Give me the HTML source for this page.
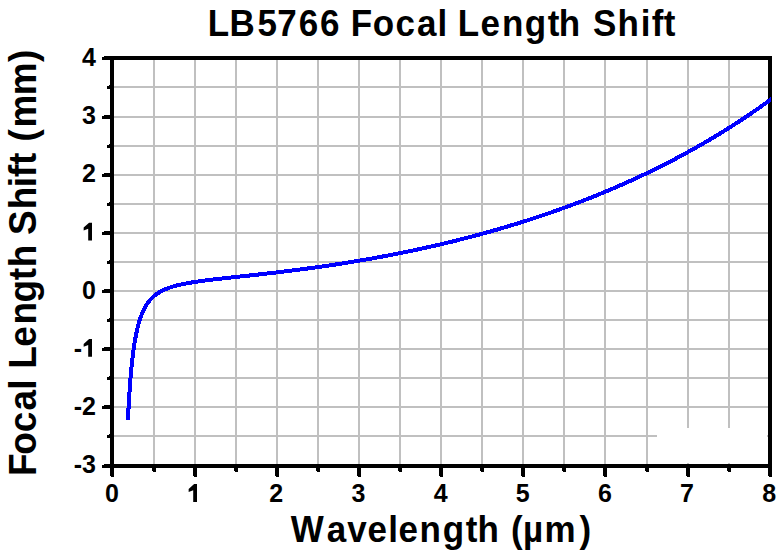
<!DOCTYPE html>
<html><head><meta charset="utf-8"><style>
html,body{margin:0;padding:0;background:#fff;}
svg{display:block;}
text{font-family:"Liberation Sans",sans-serif;font-weight:bold;fill:#000;}
</style></head><body>
<svg width="780" height="552" viewBox="0 0 780 552">
<defs><clipPath id="clp"><rect x="0" y="0" width="771" height="552"/></clipPath></defs>
<rect width="780" height="552" fill="#fff"/>
<g shape-rendering="crispEdges">
<g fill="#c0c0c0"><rect x="153" y="60" width="2" height="404"/><rect x="194" y="60" width="2" height="404"/><rect x="235" y="60" width="2" height="404"/><rect x="276" y="60" width="2" height="404"/><rect x="317" y="60" width="2" height="404"/><rect x="358" y="60" width="2" height="404"/><rect x="399" y="60" width="2" height="404"/><rect x="440" y="60" width="2" height="404"/><rect x="481" y="60" width="2" height="404"/><rect x="522" y="60" width="2" height="404"/><rect x="563" y="60" width="2" height="404"/><rect x="604" y="60" width="2" height="404"/><rect x="646" y="60" width="2" height="404"/><rect x="687" y="60" width="2" height="404"/><rect x="728" y="60" width="2" height="404"/><rect x="114" y="86" width="654" height="2"/><rect x="114" y="116" width="654" height="2"/><rect x="114" y="145" width="654" height="2"/><rect x="114" y="174" width="654" height="2"/><rect x="114" y="203" width="654" height="2"/><rect x="114" y="232" width="654" height="2"/><rect x="114" y="261" width="654" height="2"/><rect x="114" y="290" width="654" height="2"/><rect x="114" y="319" width="654" height="2"/><rect x="114" y="348" width="654" height="2"/><rect x="114" y="377" width="654" height="2"/><rect x="114" y="406" width="654" height="2"/><rect x="114" y="435" width="654" height="2"/></g>
<rect x="657" y="428" width="110" height="35" fill="#fff"/>
<g fill="#000">
<rect x="110" y="56" width="4" height="412"/>
<rect x="768" y="56" width="4" height="412"/>
<rect x="110" y="56" width="662" height="4"/>
<rect x="110" y="464" width="662" height="4"/>
<rect x="102" y="57" width="2" height="3"/><rect x="104" y="56" width="6" height="4"/><rect x="107" y="86" width="2" height="3"/><rect x="109" y="85" width="1" height="4"/><rect x="102" y="116" width="2" height="3"/><rect x="104" y="115" width="6" height="4"/><rect x="107" y="145" width="2" height="3"/><rect x="109" y="144" width="1" height="4"/><rect x="102" y="174" width="2" height="3"/><rect x="104" y="173" width="6" height="4"/><rect x="107" y="203" width="2" height="3"/><rect x="109" y="202" width="1" height="4"/><rect x="102" y="232" width="2" height="3"/><rect x="104" y="231" width="6" height="4"/><rect x="107" y="261" width="2" height="3"/><rect x="109" y="260" width="1" height="4"/><rect x="102" y="290" width="2" height="3"/><rect x="104" y="289" width="6" height="4"/><rect x="107" y="319" width="2" height="3"/><rect x="109" y="318" width="1" height="4"/><rect x="102" y="348" width="2" height="3"/><rect x="104" y="347" width="6" height="4"/><rect x="107" y="377" width="2" height="3"/><rect x="109" y="376" width="1" height="4"/><rect x="102" y="406" width="2" height="3"/><rect x="104" y="405" width="6" height="4"/><rect x="107" y="435" width="2" height="3"/><rect x="109" y="434" width="1" height="4"/><rect x="102" y="465" width="2" height="3"/><rect x="104" y="464" width="6" height="4"/><rect x="110" y="468" width="1" height="8"/><rect x="111" y="468" width="3" height="9"/><rect x="152" y="468" width="1" height="3"/><rect x="153" y="468" width="3" height="4"/><rect x="193" y="468" width="1" height="8"/><rect x="194" y="468" width="3" height="9"/><rect x="234" y="468" width="1" height="3"/><rect x="235" y="468" width="3" height="4"/><rect x="275" y="468" width="1" height="8"/><rect x="276" y="468" width="3" height="9"/><rect x="316" y="468" width="1" height="3"/><rect x="317" y="468" width="3" height="4"/><rect x="357" y="468" width="1" height="8"/><rect x="358" y="468" width="3" height="9"/><rect x="398" y="468" width="1" height="3"/><rect x="399" y="468" width="3" height="4"/><rect x="439" y="468" width="1" height="8"/><rect x="440" y="468" width="3" height="9"/><rect x="480" y="468" width="1" height="3"/><rect x="481" y="468" width="3" height="4"/><rect x="521" y="468" width="1" height="8"/><rect x="522" y="468" width="3" height="9"/><rect x="562" y="468" width="1" height="3"/><rect x="563" y="468" width="3" height="4"/><rect x="603" y="468" width="1" height="8"/><rect x="604" y="468" width="3" height="9"/><rect x="645" y="468" width="1" height="3"/><rect x="646" y="468" width="3" height="4"/><rect x="686" y="468" width="1" height="8"/><rect x="687" y="468" width="3" height="9"/><rect x="727" y="468" width="1" height="3"/><rect x="728" y="468" width="3" height="4"/><rect x="768" y="468" width="1" height="8"/><rect x="769" y="468" width="3" height="9"/>
</g>
</g>
<path d="M127.93,420.08 L128.19,414.82 L128.44,409.86 L128.70,405.19 L128.95,400.77 L129.21,396.59 L129.46,392.63 L129.72,388.87 L129.97,385.31 L130.23,381.92 L130.48,378.70 L130.74,375.63 L130.99,372.71 L131.25,369.92 L131.50,367.26 L131.76,364.72 L132.01,362.29 L132.27,359.97 L132.52,357.74 L132.78,355.61 L133.03,353.56 L133.28,351.60 L133.54,349.72 L133.79,347.91 L134.05,346.17 L134.30,344.50 L134.56,342.89 L134.81,341.34 L135.07,339.85 L135.32,338.41 L135.58,337.02 L135.83,335.69 L136.09,334.40 L136.34,333.15 L136.60,331.95 L136.85,330.78 L137.11,329.66 L137.36,328.57 L137.62,327.52 L137.87,326.50 L138.85,322.89 L139.82,319.68 L140.80,316.82 L141.77,314.25 L142.74,311.94 L143.72,309.85 L144.69,307.95 L145.67,306.22 L146.64,304.65 L147.62,303.20 L148.59,301.88 L149.57,300.66 L150.54,299.53 L151.52,298.48 L152.49,297.52 L153.46,296.62 L154.44,295.78 L155.41,295.00 L156.39,294.26 L157.36,293.58 L158.34,292.94 L159.31,292.33 L160.29,291.76 L161.26,291.22 L162.24,290.72 L163.21,290.24 L164.18,289.78 L165.16,289.35 L166.13,288.94 L167.11,288.55 L168.08,288.18 L169.06,287.82 L170.03,287.48 L171.01,287.16 L171.98,286.85 L172.96,286.55 L173.93,286.27 L174.90,285.99 L175.88,285.73 L176.85,285.47 L177.83,285.23 L178.80,284.99 L179.78,284.76 L180.75,284.54 L181.73,284.33 L182.70,284.12 L183.68,283.92 L184.65,283.73 L185.62,283.54 L186.60,283.35 L187.57,283.17 L188.55,283.00 L189.52,282.82 L190.50,282.66 L191.47,282.50 L192.45,282.34 L193.42,282.18 L194.40,282.03 L195.37,281.88 L200.22,281.17 L205.07,280.52 L209.93,279.91 L214.78,279.33 L219.63,278.77 L224.48,278.22 L229.34,277.69 L234.19,277.16 L239.04,276.63 L243.89,276.11 L248.75,275.58 L253.60,275.05 L258.45,274.51 L263.30,273.97 L268.16,273.41 L273.01,272.85 L277.86,272.28 L282.71,271.70 L287.57,271.10 L292.42,270.49 L297.27,269.87 L302.12,269.24 L306.98,268.59 L311.83,267.93 L316.68,267.26 L321.53,266.57 L326.39,265.86 L331.24,265.14 L336.09,264.41 L340.94,263.66 L345.80,262.89 L350.65,262.10 L355.50,261.30 L360.35,260.48 L365.21,259.65 L370.06,258.80 L374.91,257.93 L379.76,257.04 L384.62,256.13 L389.47,255.21 L394.32,254.27 L399.17,253.30 L404.03,252.32 L408.88,251.33 L413.73,250.31 L418.58,249.27 L423.44,248.21 L428.29,247.13 L433.14,246.04 L437.99,244.92 L442.85,243.78 L447.70,242.62 L452.55,241.44 L457.40,240.23 L462.26,239.01 L467.11,237.76 L471.96,236.49 L476.81,235.20 L481.67,233.89 L486.52,232.55 L491.37,231.19 L496.22,229.81 L501.08,228.40 L505.93,226.97 L510.78,225.51 L515.63,224.03 L520.49,222.53 L525.34,220.99 L530.19,219.44 L535.04,217.85 L539.90,216.24 L544.75,214.60 L549.60,212.94 L554.45,211.25 L559.31,209.53 L564.16,207.78 L569.01,206.00 L573.86,204.20 L578.72,202.36 L583.57,200.49 L588.42,198.60 L593.27,196.67 L598.13,194.71 L602.98,192.72 L607.83,190.69 L612.68,188.64 L617.54,186.55 L622.39,184.42 L627.24,182.26 L632.09,180.07 L636.94,177.84 L641.80,175.57 L646.65,173.27 L651.50,170.93 L656.35,168.55 L661.21,166.13 L666.06,163.68 L670.91,161.18 L675.76,158.64 L680.62,156.06 L685.47,153.44 L690.32,150.77 L695.17,148.07 L700.03,145.31 L704.88,142.51 L709.73,139.67 L714.58,136.77 L719.44,133.83 L724.29,130.84 L729.14,127.80 L733.99,124.71 L738.85,121.57 L743.70,118.37 L748.55,115.12 L753.40,111.82 L758.26,108.46 L763.11,105.04 L767.96,101.56 L772.81,98.02" fill="none" stroke="#0000ff" stroke-width="4" stroke-linejoin="round" stroke-linecap="butt" shape-rendering="crispEdges" clip-path="url(#clp)"/>
<g font-size="25">
<text x="96" y="65.9" text-anchor="end">4</text><text x="96" y="124.1" text-anchor="end">3</text><text x="96" y="182.3" text-anchor="end">2</text><path d="M92.00,222.63 L89.10,222.63 L83.66,227.58 L83.66,230.53 L88.20,228.73 L88.20,240.43 L92.00,240.43 Z"/><text x="96" y="298.6" text-anchor="end">0</text><text x="82" y="356.8" text-anchor="end">-</text><path d="M92.00,338.97 L89.10,338.97 L83.66,343.92 L83.66,346.87 L88.20,345.07 L88.20,356.77 L92.00,356.77 Z"/><text x="96" y="414.9" text-anchor="end">-2</text><text x="96" y="473.1" text-anchor="end">-3</text><text x="112.0" y="502" text-anchor="middle">0</text><path d="M197.00,484.10 L194.10,484.10 L188.66,489.05 L188.66,492.00 L193.20,490.20 L193.20,501.90 L197.00,501.90 Z"/><text x="276.3" y="502" text-anchor="middle">2</text><text x="358.5" y="502" text-anchor="middle">3</text><text x="440.6" y="502" text-anchor="middle">4</text><text x="522.7" y="502" text-anchor="middle">5</text><text x="604.9" y="502" text-anchor="middle">6</text><text x="687.0" y="502" text-anchor="middle">7</text><text x="769.1" y="502" text-anchor="middle">8</text>
</g>
<text transform="translate(0,36.1) scale(1,1.03)" font-size="35"><tspan x="207.66">L</tspan><tspan x="229.56">B</tspan><tspan x="257.42">5</tspan><tspan x="277.30">7</tspan><tspan x="298.72">6</tspan><tspan x="319.92">6</tspan><tspan x="350.76">F</tspan><tspan x="372.83">o</tspan><tspan x="395.53">c</tspan><tspan x="417.07">a</tspan><tspan x="437.56">l</tspan><tspan x="457.66">L</tspan><tspan x="480.53">e</tspan><tspan x="501.89">n</tspan><tspan x="524.76">g</tspan><tspan x="547.67">t</tspan><tspan x="558.86">h</tspan><tspan x="593.09">S</tspan><tspan x="617.56">h</tspan><tspan x="640.86">i</tspan><tspan x="651.70">f</tspan><tspan x="663.77">t</tspan></text>
<text transform="translate(0,541.9) scale(1,1.035)" font-size="35"><tspan x="290.77">W</tspan><tspan x="326.67">a</tspan><tspan x="347.16">v</tspan><tspan x="367.43">e</tspan><tspan x="388.36">l</tspan><tspan x="398.63">e</tspan><tspan x="419.59">n</tspan><tspan x="442.76">g</tspan><tspan x="465.77">t</tspan><tspan x="477.56">h</tspan><tspan x="510.96">(</tspan><tspan x="523.11">µ</tspan><tspan x="544.59">m</tspan><tspan x="579.57">)</tspan></text>
<text transform="translate(36,0) rotate(-90) scale(1,1.03)" font-size="37"><tspan x="-476.08">F</tspan><tspan x="-454.65">o</tspan><tspan x="-432.25">c</tspan><tspan x="-410.58">a</tspan><tspan x="-389.88">l</tspan><tspan x="-368.78">L</tspan><tspan x="-346.65">e</tspan><tspan x="-324.44">n</tspan><tspan x="-302.52">g</tspan><tspan x="-280.35">t</tspan><tspan x="-267.18">h</tspan><tspan x="-234.97">S</tspan><tspan x="-209.38">h</tspan><tspan x="-187.38">i</tspan><tspan x="-177.33">f</tspan><tspan x="-164.97">t</tspan><tspan x="-141.54">(</tspan><tspan x="-127.44">m</tspan><tspan x="-95.24">m</tspan><tspan x="-62.04">)</tspan></text>
</svg>
</body></html>
